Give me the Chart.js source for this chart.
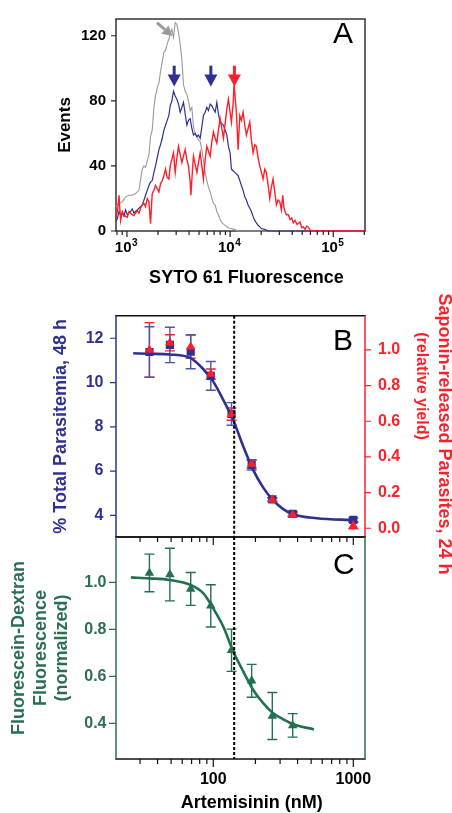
<!DOCTYPE html>
<html><head><meta charset="utf-8">
<script src="https://cdn.jsdelivr.net/npm/chart.js@4.4.1/dist/chart.umd.min.js"></script>
<style>
html,body{margin:0;padding:0;background:#fff;width:452px;height:813px;overflow:hidden}
canvas{position:absolute;left:0;top:0}
</style></head><body>
<canvas id="cA" width="452" height="813"></canvas>
<canvas id="cB" width="452" height="813"></canvas>
<canvas id="cC" width="452" height="813"></canvas>
<script>
// ---------- Panel A data (flow histogram) ----------
const grayX = [783,837,901,969,1046,1125,1211,1307,1406,1461,1514,1633,1692,1757,1825,1892,1965,2041,2115,2197,2281,2364,2455,2550,2626,2727,2826,2935,3048,3159,3281,3408,3530,3667,3809,3947,4101,4258,4413,4584,4761,4933,5125,5321,5515,5728,5949,6165,6404,6650,6892,7159,7433,7703,8002,8368,8946,9563,10216,10932,11951,203000];
const grayY = [15,17,18,21,22,22,23,25,38,40,39,47,58,62,76,83,88,91,98,104,110,111,115,118,121,124,119,128,127,122,115,105,90,86,84,80,74,76,64,60,58,56,55,50,43,36,31,27,24,20,17,16,12,10,7,5,3.5,2,1.5,1,0,0];
const blueX = [783,805,837,867,901,935,969,1007,1046,1084,1125,1169,1211,1258,1307,1354,1406,1461,1514,1572,1633,1692,1757,1825,1892,1965,2041,2115,2197,2281,2364,2455,2550,2626,2727,2826,2935,3048,3159,3281,3408,3530,3667,3809,3947,4101,4258,4413,4584,4761,4933,5125,5321,5515,5728,5949,6165,6404,6650,6892,7159,7433,7703,8002,8313,8613,8946,9290,9627,10000,10294,10690,11103,11508,11951,12411,12865,13360,13877,14381,14939,15510,16081,16697,17342,17972,18665,19385,20091,21673,23380,203000];
const blueY = [6,7.5,12,10,11,9,13,10,11,12,13.5,11,12,13,14,15,16,19,22,25,28,30,31,36,40,45,50,53,57,62,65,68,71,77,80,86,83,81,78,73,76,79,72,65,68,69,63,59,60,58,59,57,64,71,73,76,74,78,77,75,73,79,72,67,66,65,62,59,52,48,38,37,36,35,34,31,28,25,21,19,16,14,12,9,6.5,5,3.5,2.5,1.5,1,0,0];
const redX = [783,813,837,867,901,935,969,1007,1046,1084,1125,1169,1211,1258,1307,1354,1406,1461,1514,1572,1633,1692,1757,1825,1892,1965,2041,2115,2197,2281,2364,2455,2550,2626,2727,2826,2935,3048,3159,3281,3408,3530,3667,3809,3947,4101,4166,4320,4413,4584,4761,4933,5125,5321,5515,5728,5949,6165,6404,6650,6892,7159,7433,7703,8002,8313,8613,8946,9290,9627,10000,10294,10690,10932,11254,11508,11951,12411,12865,13360,13877,14381,14939,15510,16081,16697,17342,17972,18665,19385,20091,20869,21673,22460,23380,24232,25107,26083,27083,28070,29150,30284,31380,32372,33320,34073,35075,36673,38090,39561,41010,42590,44530,47604,49440,51232,53220,55270,57280,59500,63620,203000];
const redY = [8.5,13,22,6.5,12,10,9,8.5,12,11,10,9.5,11,12.5,11,14,16,17,15,20,18,4.5,23,25,28,26,24,29,31,34,38,33,32,40,44,48,36,45,52,47,42,46,50,44,40,30,22,38,46,41,36,42,48,40,32,44,52,49,46,55,61,57,54,62,69,63,57,66,75,81,73,67,78,91,80,73,50,71,68,73,65,59,63,67,56,48,53,52,45,40,36,32,38,36,28,20,27,32,24,16,19,18,13,22,14,12,10,10,7,8,5,6.5,4,5.5,2,2.5,1,3,2.5,0.5,0,0];
const histTicksMajor = [1000, 10000, 100000];
const histTickBase = '10';
const histTickExp = ['3', '4', '5'];
const histTicksMinor = [800,900,2000,3000,4000,5000,6000,7000,8000,9000,20000,30000,40000,50000,60000,70000,80000,90000,200000];
const eventsTicks = [0, 40, 80, 120];
const blueArrowX = [2870, 6504];
const redArrowX = [11006];
const arrowTopY = 101.6, arrowTipY = 88.8;
const grayArrowFrom = [1952, 128.1], grayArrowTo = [2763, 119.8];

// ---------- Panel B data ----------
const concB = [35, 49, 69, 96, 135, 188, 264, 369, 1000];
const parasitemia = [11.38, 11.7, 11.39, 10.3, 8.58, 6.28, 4.72, 4.07, 3.79];
const parasitemiaErr = [1.14, 0.8, 0.77, 0.65, 0.51, 0.23, 0.08, 0.1, 0.09];
const saponin = [1.0, 1.04, 1.018, 0.865, 0.64, 0.36, 0.16, 0.075, 0.015];
const saponinErr = [0.153, 0.045, 0.065, 0.028, 0.034, 0.022, 0.01, 0.012, 0.018];
const fitBX = [26.8, 35, 49, 69, 85, 100, 116, 139, 164, 193, 228, 264, 316, 369, 550, 1000];
const fitBY = [11.32, 11.3, 11.27, 11.1, 10.6, 10.04, 9.3, 8.3, 7.1, 6.04, 5.24, 4.72, 4.28, 4.05, 3.87, 3.78];
const parasitemiaTicks = [4, 6, 8, 10, 12];
const saponinTicks = [0, 0.2, 0.4, 0.6, 0.8, 1.0];

// ---------- Panel C data ----------
const concC = [35, 49, 69, 96, 135, 188, 264, 369];
const dextran = [1.04, 1.033, 0.972, 0.90, 0.711, 0.581, 0.431, 0.391];
const dextranErr = [0.08, 0.112, 0.07, 0.09, 0.09, 0.07, 0.1, 0.05];
const fitCX = [25.8, 35, 49, 69, 85, 100, 118, 139, 164, 193, 228, 268, 316, 372, 524];
const fitCY = [1.021, 1.017, 1.01, 0.989, 0.953, 0.889, 0.811, 0.705, 0.62, 0.542, 0.485, 0.443, 0.417, 0.396, 0.374];
const dextranTicks = [0.4, 0.6, 0.8, 1.0];
const concTicksMajor = [100, 1000];
const concTicksMinor = [30,40,50,60,70,80,90,200,300,400,500,600,700,800,900];
const ic50 = 141;

// ---------- styling ----------
const FONT = "'Liberation Sans', Arial, Helvetica, sans-serif";
Chart.defaults.font.family = FONT;
Chart.defaults.animation = false;
const BLUE = '#2e3192', BLUE_ERR = '#4d57aa', RED = '#ff1f2a', GREEN = '#2b6e52', GREEN_D = '#23704f';
const W = 452, H = 813;

const pts = (xs, ys) => xs.map((x, i) => ({x, y: ys[i]}));

const decorCfg = {};
const decor = {
  id: 'decor',
  beforeDatasetsDraw(chart) {
    const cfg = decorCfg[chart.canvas.id]; if (!cfg) return;
    const ctx = chart.ctx, a = chart.chartArea;
    chart.data.datasets.forEach((ds) => {
      if (!ds.errors) return;
      const xs = chart.scales[ds.xAxisID || 'x'], ys = chart.scales[ds.yAxisID || 'y'];
      ctx.save(); ctx.strokeStyle = ds.errorColor; ctx.lineWidth = 1.4;
      ds.data.forEach((p, j) => {
        const e = ds.errors[j], px = xs.getPixelForValue(p.x);
        const y1 = ys.getPixelForValue(p.y + e), y2 = ys.getPixelForValue(p.y - e);
        ctx.beginPath();
        ctx.moveTo(px, y1); ctx.lineTo(px, y2);
        ctx.moveTo(px - 5, y1); ctx.lineTo(px + 5, y1);
        ctx.moveTo(px - 5, y2); ctx.lineTo(px + 5, y2);
        ctx.stroke();
      });
      ctx.restore();
    });
    const f = cfg.frame;
    ctx.save(); ctx.lineWidth = 1.5;
    const seg = (c, x1, y1, x2, y2) => { if (!c) return; ctx.strokeStyle = c; ctx.beginPath(); ctx.moveTo(x1, y1); ctx.lineTo(x2, y2); ctx.stroke(); };
    seg(f.top, a.left - 0.75, a.top, a.right + 0.75, a.top);
    seg(f.bottom, a.left - 0.75, a.bottom, a.right + 0.75, a.bottom);
    seg(f.left, a.left, a.top, a.left, a.bottom);
    seg(f.right, a.right, a.top, a.right, a.bottom);
    ctx.restore();
  },
  afterDraw(chart) {
    const cfg = decorCfg[chart.canvas.id]; if (!cfg) return;
    const ctx = chart.ctx, a = chart.chartArea;
    (cfg.ticks || []).forEach(t => {
      const s = chart.scales[t.scale];
      ctx.save(); ctx.strokeStyle = t.color; ctx.lineWidth = 1.2;
      ctx.beginPath();
      t.values.forEach(v => {
        const p = s.getPixelForValue(v);
        if (t.edge === 'bottom') { ctx.moveTo(p, a.bottom); ctx.lineTo(p, a.bottom + t.len); }
        if (t.edge === 'left') { ctx.moveTo(a.left, p); ctx.lineTo(a.left - t.len, p); }
        if (t.edge === 'right') { ctx.moveTo(a.right, p); ctx.lineTo(a.right + t.len, p); }
      });
      ctx.stroke(); ctx.restore();
    });
    if (cfg.powerLabels) cfg.powerLabels(chart, ctx);
    if (cfg.vline) {
      const p = chart.scales.x.getPixelForValue(cfg.vline);
      ctx.save(); ctx.strokeStyle = '#000'; ctx.lineWidth = 2; ctx.setLineDash([3, 2]);
      ctx.beginPath(); ctx.moveTo(p, a.top); ctx.lineTo(p, a.bottom); ctx.stroke(); ctx.restore();
    }
    if (cfg.arrows) cfg.arrows(chart, ctx);
    (cfg.texts || []).forEach(t => {
      ctx.save();
      ctx.font = t.font; ctx.fillStyle = t.color || '#000';
      ctx.textAlign = t.align || 'center'; ctx.textBaseline = t.baseline || 'alphabetic';
      ctx.translate(t.x, t.y); if (t.rot) ctx.rotate(t.rot * Math.PI / 180);
      ctx.fillText(t.text, 0, 0);
      ctx.restore();
    });
  }
};
Chart.register(decor);

function vArrow(ctx, x, yTop, yTip, color) {
  const hb = yTip - 12;
  ctx.save(); ctx.strokeStyle = color; ctx.fillStyle = color; ctx.lineWidth = 3;
  ctx.beginPath(); ctx.moveTo(x, yTop); ctx.lineTo(x, hb + 1); ctx.stroke();
  ctx.beginPath(); ctx.moveTo(x - 6.5, hb); ctx.lineTo(x + 6.5, hb); ctx.lineTo(x, yTip); ctx.closePath(); ctx.fill();
  ctx.restore();
}

const baseOpts = (pad) => ({
  responsive: false, maintainAspectRatio: false, devicePixelRatio: 1, animation: false, events: [],
  layout: {padding: pad},
  plugins: {legend: {display: false}, tooltip: {enabled: false}}
});

// ---------- Chart A ----------
decorCfg.cA = {
  frame: {top: '#333', bottom: '#333', left: '#333', right: '#333'},
  ticks: [
    {scale: 'x', values: histTicksMajor, edge: 'bottom', len: 6, color: '#222'},
    {scale: 'x', values: histTicksMinor, edge: 'bottom', len: 4, color: '#222'},
    {scale: 'y', values: eventsTicks, edge: 'left', len: 5, color: '#222'}
  ],
  texts: [
    {text: 'A', x: 333, y: 42.5, font: '30px ' + FONT, align: 'left'},
    {text: 'SYTO 61 Fluorescence', x: 246.5, y: 283, font: 'bold 18px ' + FONT}
  ],
  powerLabels(chart, ctx) {
    const xs = chart.scales.x;
    ctx.save(); ctx.fillStyle = '#000'; ctx.textBaseline = 'alphabetic'; ctx.textAlign = 'left';
    histTicksMajor.forEach((v, i) => {
      const p = xs.getPixelForValue(v);
      ctx.font = 'bold 15px ' + FONT; const wb = ctx.measureText(histTickBase).width;
      ctx.font = 'bold 10px ' + FONT; const we = ctx.measureText(histTickExp[i]).width;
      const x0 = p - (wb + we) / 2 - 1;
      ctx.font = 'bold 15px ' + FONT; ctx.fillText(histTickBase, x0, 252);
      ctx.font = 'bold 10px ' + FONT; ctx.fillText(histTickExp[i], x0 + wb + 0.5, 245.5);
    });
    ctx.restore();
  },
  arrows(chart, ctx) {
    const xs = chart.scales.x, ys = chart.scales.y;
    const top = ys.getPixelForValue(arrowTopY), tip = ys.getPixelForValue(arrowTipY);
    blueArrowX.forEach(v => vArrow(ctx, xs.getPixelForValue(v), top, tip, BLUE));
    redArrowX.forEach(v => vArrow(ctx, xs.getPixelForValue(v), top, tip, RED));
    const x1 = xs.getPixelForValue(grayArrowFrom[0]), y1 = ys.getPixelForValue(grayArrowFrom[1]);
    const x2 = xs.getPixelForValue(grayArrowTo[0]), y2 = ys.getPixelForValue(grayArrowTo[1]);
    const ang = Math.atan2(y2 - y1, x2 - x1), L = 10, hw = 5.5;
    const bx = x2 - L * Math.cos(ang), by = y2 - L * Math.sin(ang);
    ctx.save(); ctx.strokeStyle = '#9a9a9a'; ctx.fillStyle = '#9a9a9a'; ctx.lineWidth = 3;
    ctx.beginPath(); ctx.moveTo(x1, y1); ctx.lineTo(bx, by); ctx.stroke();
    ctx.beginPath(); ctx.moveTo(x2, y2);
    ctx.lineTo(bx + hw * Math.sin(ang), by - hw * Math.cos(ang));
    ctx.lineTo(bx - hw * Math.sin(ang), by + hw * Math.cos(ang)); ctx.closePath(); ctx.fill();
    ctx.restore();
  }
};
const histLine = (xs, ys, c, w) => ({data: pts(xs, ys), showLine: true, borderColor: c, borderWidth: w, pointRadius: 0, tension: 0, clip: false});
new Chart(document.getElementById('cA'), {
  type: 'scatter',
  data: {datasets: [histLine(redX, redY, RED, 1.4), histLine(blueX, blueY, BLUE, 1.2), histLine(grayX, grayY, '#9a9a9a', 1.1)]},
  options: Object.assign(baseOpts({left: 0, top: 9.5, right: W - 365, bottom: H - 231 - 30}), {
    scales: {
      x: {type: 'logarithmic', min: 783, max: 203000,
        afterBuildTicks: s => { s.ticks = histTicksMajor.map(v => ({value: v})); },
        afterFit: s => { s.height = 30; },
        grid: {display: false, drawTicks: false}, border: {display: false},
        ticks: {autoSkip: false, maxRotation: 0, minRotation: 0, padding: 6, color: '#000', font: {size: 15, weight: 'bold'},
          callback: () => ''}},
      y: {type: 'linear', min: 0, max: 130.3,
        afterBuildTicks: s => { s.ticks = eventsTicks.map(v => ({value: v})); },
        afterFit: s => { s.width = 116; },
        grid: {display: false, drawTicks: false}, border: {display: false},
        ticks: {padding: 10, color: '#000', font: {size: 15, weight: 'bold'}, callback: v => String(v)},
        title: {display: true, text: 'Events', color: '#000', font: {size: 17, weight: 'bold'}, padding: {top: 55, bottom: 0}}}
    }
  })
});

// ---------- Chart B ----------
decorCfg.cB = {
  frame: {top: '#111', bottom: '#111', left: BLUE, right: RED},
  ticks: [
    {scale: 'x', values: concTicksMajor, edge: 'bottom', len: 8, color: '#111'},
    {scale: 'x', values: concTicksMinor, edge: 'bottom', len: 5, color: '#111'},
    {scale: 'y', values: parasitemiaTicks, edge: 'left', len: 6, color: BLUE},
    {scale: 'y2', values: saponinTicks, edge: 'right', len: 6, color: RED}
  ],
  vline: ic50,
  texts: [
    {text: 'B', x: 333, y: 350, font: '30px ' + FONT, align: 'left'},
    {text: 'Saponin-released Parasites, 24 h', x: 444, y: 434, rot: 90, baseline: 'middle', color: RED, font: 'bold 18px ' + FONT},
    {text: '(relative yield)', x: 421.5, y: 386, rot: 90, baseline: 'middle', color: RED, font: 'bold 16px ' + FONT}
  ]
};
new Chart(document.getElementById('cB'), {
  type: 'scatter',
  data: {datasets: [
    {data: pts(concB, saponin), yAxisID: 'y2', pointStyle: 'triangle', pointRadius: 5.5, backgroundColor: RED, borderColor: RED, borderWidth: 0,
      errors: saponinErr, errorColor: RED},
    {data: pts(concB, parasitemia), yAxisID: 'y', pointStyle: 'rect', pointRadius: 5.8, backgroundColor: BLUE, borderColor: BLUE, borderWidth: 0,
      errors: parasitemiaErr, errorColor: BLUE_ERR},
    {data: pts(fitBX, fitBY), yAxisID: 'y', showLine: true, pointRadius: 0, borderColor: BLUE, borderWidth: 2.6, cubicInterpolationMode: 'monotone'}
  ]},
  options: Object.assign(baseOpts({left: 0, top: 315.7, right: 0, bottom: H - 537}), {
    scales: {
      x: {type: 'logarithmic', min: 20.2, max: 1212, display: false},
      y: {type: 'linear', position: 'left', min: 3.02, max: 13.02,
        afterBuildTicks: s => { s.ticks = parasitemiaTicks.map(v => ({value: v})); },
        afterFit: s => { s.width = 116; },
        grid: {display: false, drawTicks: false}, border: {display: false},
        ticks: {padding: 12.5, color: BLUE, font: {size: 16, weight: 'bold'}, callback: v => String(v)},
        title: {display: true, text: '% Total Parasitemia, 48 h', color: BLUE, font: {size: 18, weight: 'bold'}, padding: {top: 50, bottom: 0}}},
      y2: {type: 'linear', position: 'right', min: -0.049, max: 1.192,
        afterBuildTicks: s => { s.ticks = saponinTicks.map(v => ({value: v})); },
        afterFit: s => { s.width = W - 365; },
        grid: {display: false, drawTicks: false}, border: {display: false},
        ticks: {padding: 13, color: RED, font: {size: 16, weight: 'bold'}, callback: v => v.toFixed(1)}}
    }
  })
});

// ---------- Chart C ----------
decorCfg.cC = {
  frame: {top: '#111', bottom: '#111', left: GREEN, right: GREEN},
  ticks: [
    {scale: 'x', values: concTicksMajor, edge: 'bottom', len: 8, color: '#111'},
    {scale: 'x', values: concTicksMinor, edge: 'bottom', len: 5, color: '#111'},
    {scale: 'y', values: dextranTicks, edge: 'left', len: 7, color: GREEN}
  ],
  vline: ic50,
  texts: [
    {text: 'C', x: 333, y: 574, font: '30px ' + FONT, align: 'left'},
    {text: 'Artemisinin (nM)', x: 251.7, y: 808, font: 'bold 18px ' + FONT}
  ]
};
new Chart(document.getElementById('cC'), {
  type: 'scatter',
  data: {datasets: [
    {data: pts(concC, dextran), pointStyle: 'triangle', pointRadius: 5.5, backgroundColor: GREEN_D, borderColor: GREEN_D, borderWidth: 0,
      errors: dextranErr, errorColor: GREEN_D},
    {data: pts(fitCX, fitCY), showLine: true, pointRadius: 0, borderColor: GREEN_D, borderWidth: 2.6, cubicInterpolationMode: 'monotone'}
  ]},
  options: Object.assign(baseOpts({left: 0, top: 537, right: W - 365, bottom: 0}), {
    scales: {
      x: {type: 'logarithmic', min: 20.2, max: 1212,
        afterBuildTicks: s => { s.ticks = concTicksMajor.map(v => ({value: v})); },
        afterFit: s => { s.height = H - 759; },
        grid: {display: false, drawTicks: false}, border: {display: false},
        ticks: {autoSkip: false, maxRotation: 0, minRotation: 0, padding: 11, color: '#000', font: {size: 16, weight: 'bold'}, callback: v => String(v)}},
      y: {type: 'linear', min: 0.248, max: 1.193,
        afterBuildTicks: s => { s.ticks = dextranTicks.map(v => ({value: v})); },
        afterFit: s => { s.width = 116; },
        grid: {display: false, drawTicks: false}, border: {display: false},
        ticks: {padding: 9.5, color: GREEN, font: {size: 16, weight: 'bold'}, callback: v => v.toFixed(1)},
        title: {display: true, text: ['Fluorescein-Dextran', 'Fluorescence', '(normalized)'], color: GREEN, font: {size: 18, weight: 'bold'}, padding: {top: 8.4, bottom: 0}}}
    }
  })
});
</script>
</body></html>
